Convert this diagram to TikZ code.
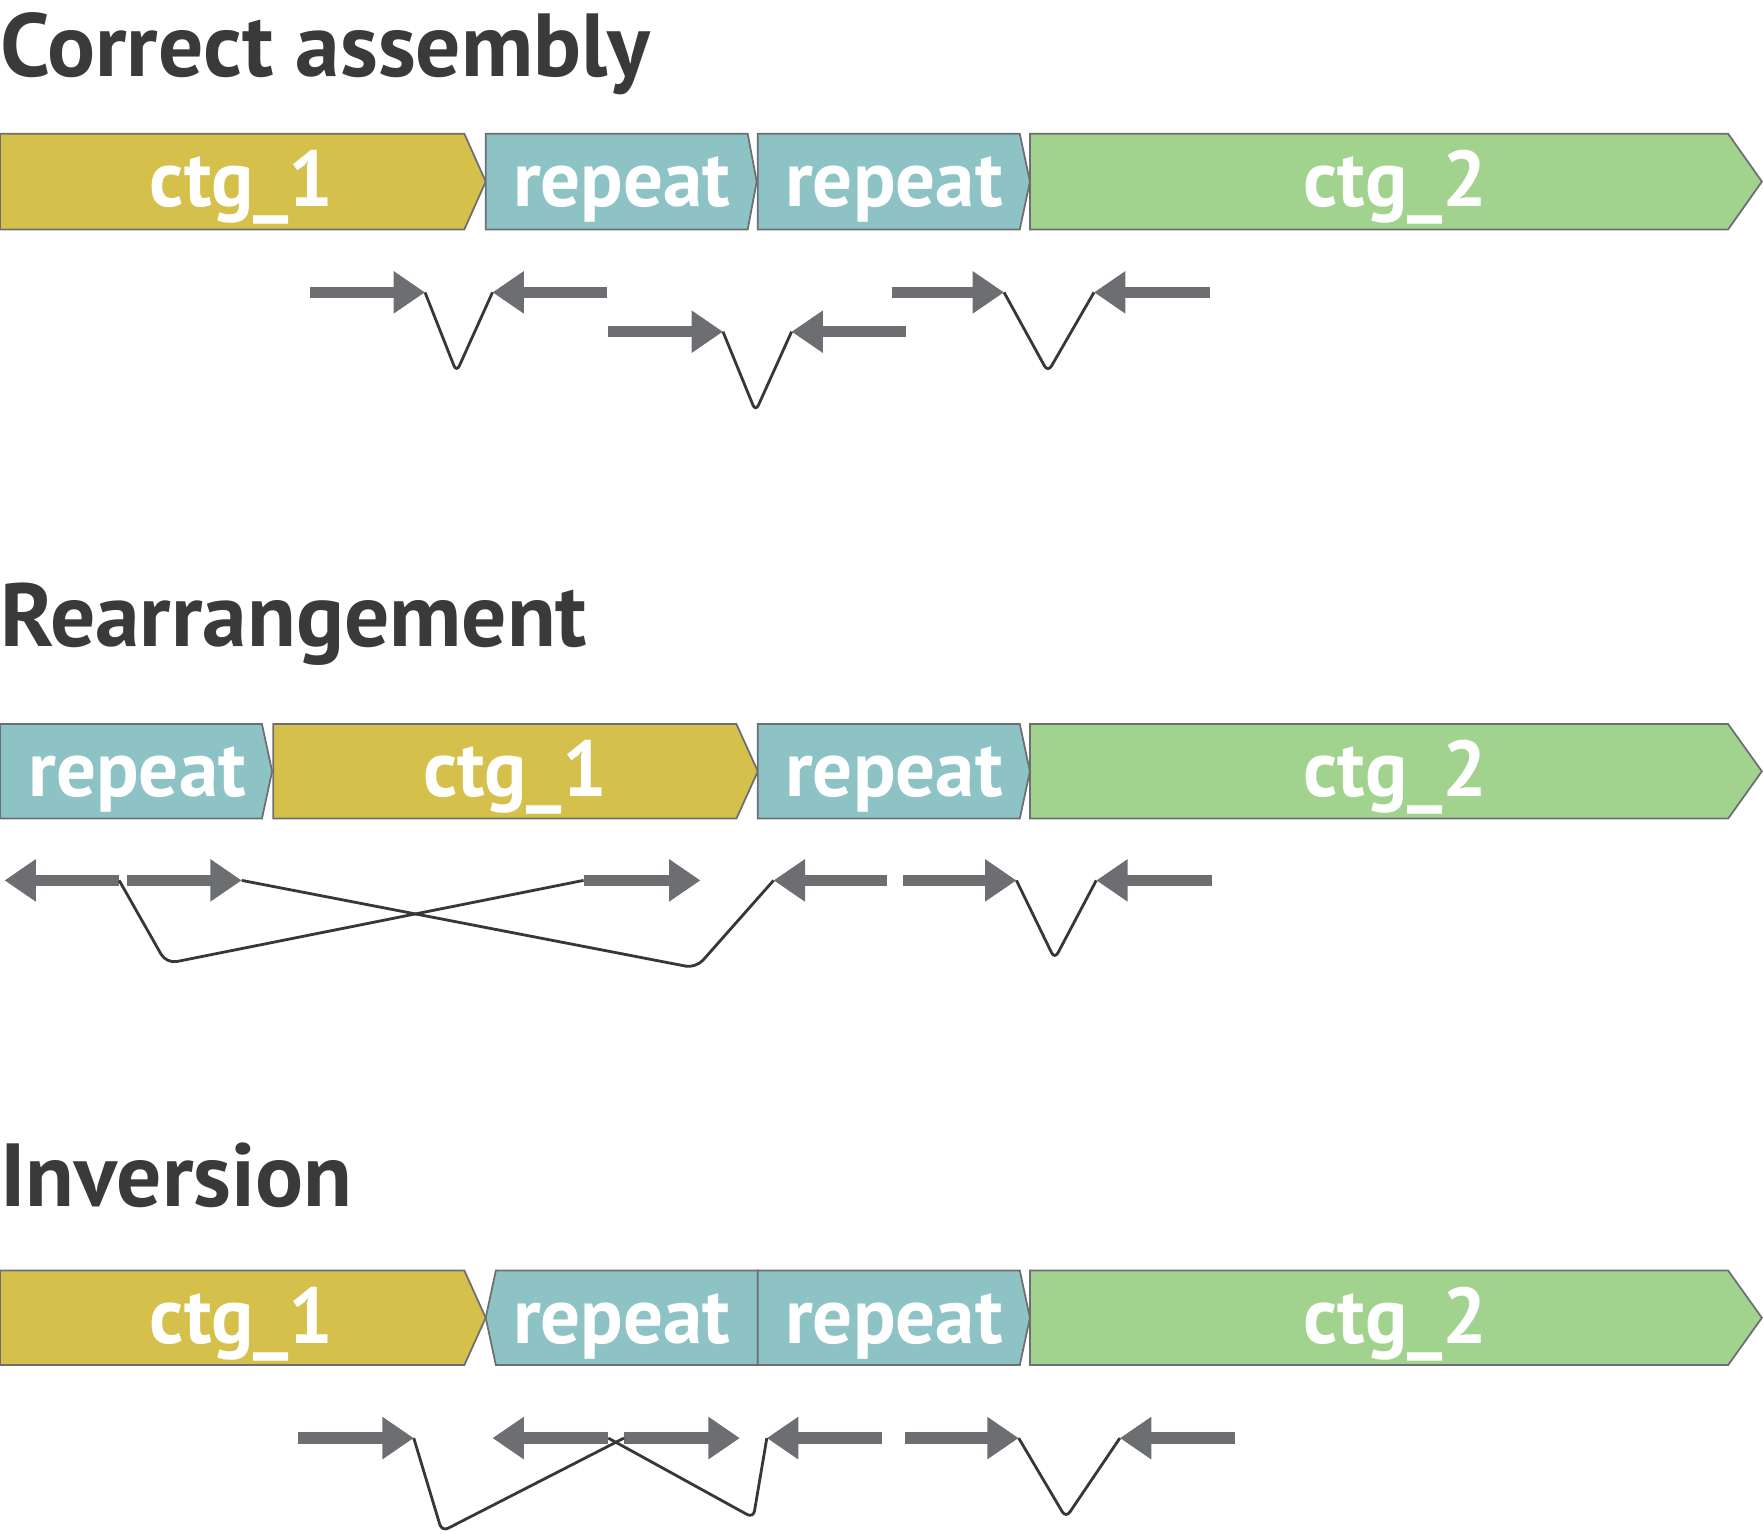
\documentclass[tikz,border=0pt]{standalone}
\usepackage{fontspec}
\setmainfont{PT Sans}
\usetikzlibrary{arrows.meta}

\definecolor{ctgone}{RGB}{212,192,74}
\definecolor{rep}{RGB}{142,195,198}
\definecolor{ctgtwo}{RGB}{161,210,142}
\definecolor{readgray}{RGB}{109,110,113}
\definecolor{titlegray}{RGB}{58,58,60}
\definecolor{linkgray}{RGB}{55,55,55}

\begin{document}
\begin{tikzpicture}[x=0.0225cm, y=-0.0225cm,
  contig/.style={draw=readgray, line width=1pt},
  ctglabel/.style={text=white, font=\bfseries\fontsize{45}{52}\selectfont, anchor=base, inner sep=0pt},
  heading/.style={text=titlegray, font=\bfseries\fontsize{51}{60}\selectfont, anchor=base west, inner sep=0pt},
  read/.style={draw=readgray, line width=6.4pt, -{Triangle[length=17.9pt, width=23pt]}},
  link/.style={draw=linkgray, line width=1.6pt, rounded corners=4pt}]

  \useasboundingbox (0,0) rectangle (1568,1364);

  % Correct assembly
  \node[heading] (t1) at (0,68) {Correct assembly};
  \filldraw[contig, fill=ctgone] (0,119) -- (413,119) -- (432,161.5) -- (413,204) -- (0,204) -- cycle;
  \filldraw[contig, fill=rep] (432,119) -- (665,119) -- (673,161.5) -- (665,204) -- (432,204) -- cycle;
  \filldraw[contig, fill=rep] (674,119) -- (907,119) -- (916,161.5) -- (907,204) -- (674,204) -- cycle;
  \filldraw[contig, fill=ctgtwo] (916,119) -- (1537,119) -- (1567,161.5) -- (1537,204) -- (916,204) -- cycle;
  \node[ctglabel] (ca-c1) at (215,184) {ctg\_1};
  \node[ctglabel] (ca-r1) at (553,184) {repeat};
  \node[ctglabel] (ca-r2) at (795,184) {repeat};
  \node[ctglabel] (ca-c2) at (1241,184) {ctg\_2};

  \coordinate (ca1) at (276,260);  \coordinate (ca1t) at (378,260);
  \coordinate (ca2) at (540,260);  \coordinate (ca2t) at (438,260);
  \coordinate (ca3) at (541,295);  \coordinate (ca3t) at (643,295);
  \coordinate (ca4) at (806,295);  \coordinate (ca4t) at (704,295);
  \coordinate (ca5) at (793,260);  \coordinate (ca5t) at (893,260);
  \coordinate (ca6) at (1076,260); \coordinate (ca6t) at (973,260);
  \coordinate (ca12) at (406,331);
  \coordinate (ca34) at (672,366);
  \coordinate (ca56) at (932,331);
  \foreach \r in {1,...,6}
    \draw[read] (ca\r) -- (ca\r t);
  \draw[link] (ca1t) -- (ca12) -- (ca2t);
  \draw[link] (ca3t) -- (ca34) -- (ca4t);
  \draw[link] (ca5t) -- (ca56) -- (ca6t);

  % Rearrangement
  \node[heading] (t2) at (0,575) {Rearrangement};
  \filldraw[contig, fill=rep] (0,644) -- (233,644) -- (242,686) -- (233,728) -- (0,728) -- cycle;
  \filldraw[contig, fill=ctgone] (243,644) -- (655,644) -- (674,686) -- (655,728) -- (243,728) -- cycle;
  \filldraw[contig, fill=rep] (674,644) -- (907,644) -- (916,686) -- (907,728) -- (674,728) -- cycle;
  \filldraw[contig, fill=ctgtwo] (916,644) -- (1537,644) -- (1567,686) -- (1537,728) -- (916,728) -- cycle;
  \node[ctglabel] (ra-r1) at (122,708.5) {repeat};
  \node[ctglabel] (ra-c1) at (458,708.5) {ctg\_1};
  \node[ctglabel] (ra-r2) at (795,708.5) {repeat};
  \node[ctglabel] (ra-c2) at (1241,708.5) {ctg\_2};

  \coordinate (ra1) at (106,783);  \coordinate (ra1t) at (4,783);
  \coordinate (ra2) at (113,783);  \coordinate (ra2t) at (215,783);
  \coordinate (ra3) at (519,783);  \coordinate (ra3t) at (623,783);
  \coordinate (ra4) at (789,783);  \coordinate (ra4t) at (688,783);
  \coordinate (ra5) at (803,783);  \coordinate (ra5t) at (904,783);
  \coordinate (ra6) at (1078,783); \coordinate (ra6t) at (975,783);
  \coordinate (ra13) at (148,857);
  \coordinate (ra24) at (619,861);
  \coordinate (ra56) at (938,853);
  \foreach \r in {1,...,6}
    \draw[read] (ra\r) -- (ra\r t);
  \draw[link, rounded corners=6pt] (ra1) -- (ra13) -- (ra3);
  \draw[link, rounded corners=6pt] (ra2t) -- (ra24) -- (ra4t);
  \draw[link] (ra5t) -- (ra56) -- (ra6t);

  % Inversion
  \node[heading] (t3) at (0,1073) {Inversion};
  \filldraw[contig, fill=ctgone] (0,1130) -- (413,1130) -- (432,1172) -- (413,1214) -- (0,1214) -- cycle;
  \filldraw[contig, fill=rep] (441,1130) -- (674,1130) -- (674,1214) -- (441,1214) -- (432,1172) -- cycle;
  \filldraw[contig, fill=rep] (674,1130) -- (907,1130) -- (916,1172) -- (907,1214) -- (674,1214) -- cycle;
  \filldraw[contig, fill=ctgtwo] (916,1130) -- (1537,1130) -- (1567,1172) -- (1537,1214) -- (916,1214) -- cycle;
  \node[ctglabel] (in-c1) at (215,1194.5) {ctg\_1};
  \node[ctglabel] (in-r1) at (553,1194.5) {repeat};
  \node[ctglabel] (in-r2) at (795,1194.5) {repeat};
  \node[ctglabel] (in-c2) at (1241,1194.5) {ctg\_2};

  \coordinate (in1) at (265,1279);  \coordinate (in1t) at (368,1279);
  \coordinate (in2) at (541,1279);  \coordinate (in2t) at (438,1279);
  \coordinate (in3) at (555,1279);  \coordinate (in3t) at (658,1279);
  \coordinate (in4) at (784,1279);  \coordinate (in4t) at (682,1279);
  \coordinate (in5) at (805,1279);  \coordinate (in5t) at (906,1279);
  \coordinate (in6) at (1098,1279); \coordinate (in6t) at (996,1279);
  \coordinate (in13) at (393,1362);
  \coordinate (in24) at (670,1350);
  \coordinate (in56) at (948,1350);
  \foreach \r in {1,...,6}
    \draw[read] (in\r) -- (in\r t);
  \draw[link] (in1t) -- (in13) -- (in3);
  \draw[link] (in2) -- (in24) -- (in4t);
  \draw[link] (in5t) -- (in56) -- (in6t);
\end{tikzpicture}
\end{document}
